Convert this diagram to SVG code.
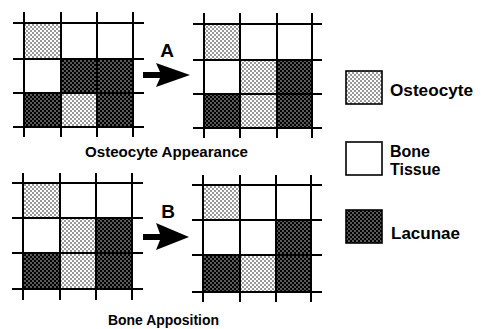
<svg xmlns="http://www.w3.org/2000/svg" width="481" height="329" viewBox="0 0 481 329">
<style>
.grid line{stroke:#000;stroke-width:2}
.o{fill:url(#light)}
.l{fill:url(#dark)}
.box{stroke:#000;stroke-width:1.6}
.lbl{font-family:"Liberation Sans",Arial,sans-serif;font-weight:bold;fill:#000}
.arrow{fill:#000}
</style>
<defs>
<pattern id="light" width="4" height="4" patternUnits="userSpaceOnUse">
<rect width="4" height="4" fill="#fff"/>
<circle cx="1" cy="1" r="0.75" fill="#000"/>
<circle cx="3" cy="3" r="0.75" fill="#000"/>
</pattern>
<pattern id="dark" width="4" height="4" patternUnits="userSpaceOnUse">
<rect width="4" height="4" fill="#000"/>
<circle cx="1" cy="1" r="0.65" fill="#fff"/>
<circle cx="3" cy="3" r="0.65" fill="#fff"/>
</pattern>
</defs>
<rect width="481" height="329" fill="#fff"/>

<g id="grid-top-left" class="grid">
<rect class="o" x="24" y="23" width="37" height="36"/>
<rect class="l" x="61" y="59" width="36" height="34"/>
<rect class="l" x="97" y="59" width="36" height="34"/>
<rect class="l" x="24" y="93" width="37" height="34"/>
<rect class="o" x="61" y="93" width="36" height="34"/>
<rect class="l" x="97" y="93" width="36" height="34"/>
<line x1="24" y1="12" x2="24" y2="137"/><line x1="61" y1="12" x2="61" y2="137"/>
<line x1="97" y1="12" x2="97" y2="137"/><line x1="133" y1="12" x2="133" y2="137"/>
<line x1="13" y1="23" x2="144" y2="23"/><line x1="13" y1="59" x2="144" y2="59"/>
<line x1="13" y1="93" x2="144" y2="93"/><line x1="13" y1="127" x2="144" y2="127"/>
</g>

<g id="grid-top-right" class="grid">
<rect class="o" x="204" y="24" width="36" height="36"/>
<rect class="o" x="240" y="60" width="37" height="34"/>
<rect class="l" x="277" y="60" width="35" height="34"/>
<rect class="l" x="204" y="94" width="36" height="34"/>
<rect class="o" x="240" y="94" width="37" height="34"/>
<rect class="l" x="277" y="94" width="35" height="34"/>
<line x1="204" y1="13" x2="204" y2="138"/><line x1="240" y1="13" x2="240" y2="138"/>
<line x1="277" y1="13" x2="277" y2="138"/><line x1="312" y1="13" x2="312" y2="138"/>
<line x1="193" y1="24" x2="322" y2="24"/><line x1="193" y1="60" x2="322" y2="60"/>
<line x1="193" y1="94" x2="322" y2="94"/><line x1="193" y1="128" x2="322" y2="128"/>
</g>

<g id="grid-bottom-left" class="grid">
<rect class="o" x="23" y="183" width="37" height="35"/>
<rect class="o" x="60" y="218" width="36" height="35"/>
<rect class="l" x="96" y="218" width="36" height="35"/>
<rect class="l" x="23" y="253" width="37" height="36"/>
<rect class="o" x="60" y="253" width="36" height="36"/>
<rect class="l" x="96" y="253" width="36" height="36"/>
<line x1="23" y1="173" x2="23" y2="300"/><line x1="60" y1="173" x2="60" y2="300"/>
<line x1="96" y1="173" x2="96" y2="300"/><line x1="132" y1="173" x2="132" y2="300"/>
<line x1="12" y1="183" x2="143" y2="183"/><line x1="12" y1="218" x2="143" y2="218"/>
<line x1="12" y1="253" x2="143" y2="253"/><line x1="12" y1="289" x2="143" y2="289"/>
</g>

<g id="grid-bottom-right" class="grid">
<rect class="o" x="203" y="185" width="37" height="35"/>
<rect class="l" x="276" y="220" width="35" height="35"/>
<rect class="l" x="203" y="255" width="37" height="37"/>
<rect class="o" x="240" y="255" width="36" height="37"/>
<rect class="l" x="276" y="255" width="35" height="37"/>
<line x1="203" y1="175" x2="203" y2="302"/><line x1="240" y1="175" x2="240" y2="302"/>
<line x1="276" y1="175" x2="276" y2="302"/><line x1="311" y1="175" x2="311" y2="302"/>
<line x1="192" y1="185" x2="322" y2="185"/><line x1="192" y1="220" x2="322" y2="220"/>
<line x1="192" y1="255" x2="322" y2="255"/><line x1="192" y1="292" x2="322" y2="292"/>
</g>

<g id="connectors">
<polygon class="arrow" points="143,72 160,72 156,63 190,75 156,87 160,78 143,78"/>
<polygon class="arrow" points="143,234 160,234 156,223 189,237 156,250 160,240 143,240"/>
</g>

<g id="labels">
<text class="lbl" x="167" y="57" font-size="19" text-anchor="middle">A</text>
<text class="lbl" x="168" y="218" font-size="19" text-anchor="middle">B</text>
<text class="lbl" x="85" y="157" font-size="14" textLength="163" lengthAdjust="spacingAndGlyphs">Osteocyte Appearance</text>
<text class="lbl" x="108" y="325" font-size="14" textLength="111" lengthAdjust="spacingAndGlyphs">Bone Apposition</text>
</g>

<g id="legend-osteocyte">
<rect class="o box" x="346" y="71" width="36" height="33"/>
<text class="lbl" x="390" y="96" font-size="16" textLength="83" lengthAdjust="spacingAndGlyphs">Osteocyte</text>
</g>
<g id="legend-bone-tissue">
<rect class="box" x="346" y="142" width="36" height="33" fill="#fff"/>
<text class="lbl" x="390" y="157" font-size="16">Bone</text>
<text class="lbl" x="390" y="175" font-size="16">Tissue</text>
</g>
<g id="legend-lacunae">
<rect class="l box" x="346" y="210" width="36" height="33"/>
<text class="lbl" x="391" y="239" font-size="16" textLength="69" lengthAdjust="spacingAndGlyphs">Lacunae</text>
</g>
</svg>
